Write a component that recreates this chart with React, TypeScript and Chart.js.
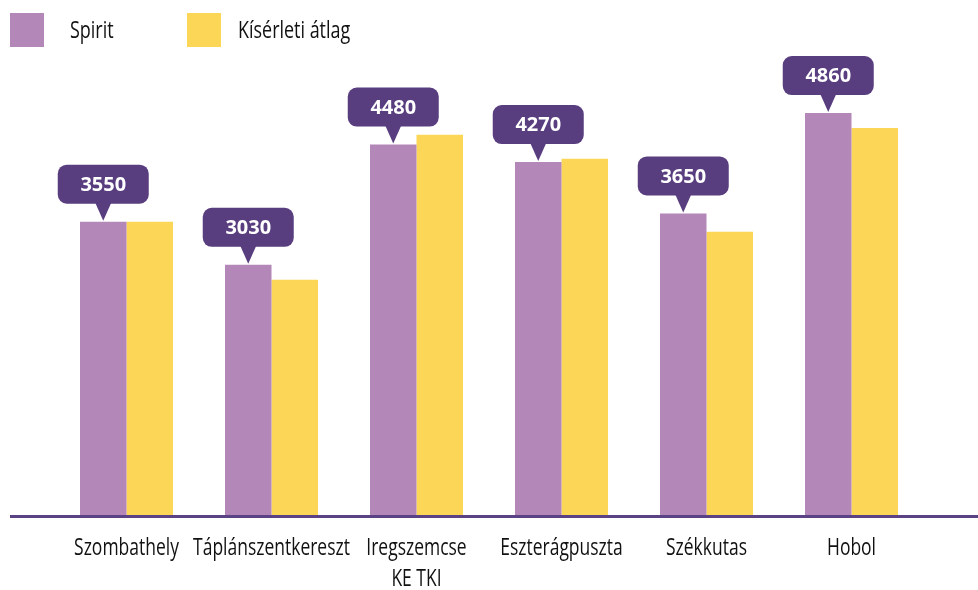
import React, { useEffect, useRef } from "react";
import { Chart, registerables } from "chart.js";

Chart.register(...registerables);

const categories: (string | string[])[] = [
  "Szombathely",
  "Táplánszentkereszt",
  ["Iregszemcse", "KE TKI"],
  "Eszterágpuszta",
  "Székkutas",
  "Hobol",
];
const spiritValues = [3550, 3030, 4480, 4270, 3650, 4860];
const averageValues = [3550, 2850, 4600, 4310, 3430, 4680];
const seriesNames = ["Spirit", "Kísérleti átlag"];

const SPIRIT = "#b388b8";
const YELLOW = "#fcd656";
const DARK = "#583d7f";
const LABEL_FONT = "500 23px 'Open Sans', sans-serif";
const SQUEEZE = 0.76;

function drawNarrow(ctx: CanvasRenderingContext2D, text: string, x: number, y: number, align: "left" | "center", squeeze: number) {
  ctx.save();
  ctx.translate(x, y);
  ctx.scale(squeeze, 1);
  ctx.textAlign = align;
  ctx.textBaseline = "alphabetic";
  ctx.fillText(text, 0, 0);
  ctx.restore();
}

const legendPlugin = {
  id: "customLegend",
  afterDraw(chart: any) {
    const ctx = chart.ctx;
    const items = [
      { box: 10, text: 70 },
      { box: 187, text: 238 },
    ];
    ctx.save();
    chart.data.datasets.forEach((ds: any, i: number) => {
      const it = items[i];
      ctx.fillStyle = ds.backgroundColor;
      ctx.fillRect(it.box, 13, 34, 34);
      ctx.fillStyle = "#111";
      ctx.font = LABEL_FONT;
      drawNarrow(ctx, ds.label, it.text, 38, "left", 0.78);
    });
    ctx.restore();
  },
};

const xLabelPlugin = {
  id: "xLabels",
  afterDraw(chart: any) {
    const ctx = chart.ctx;
    const scale = chart.scales.x;
    ctx.save();
    ctx.fillStyle = "#111";
    ctx.font = LABEL_FONT;
    chart.data.labels.forEach((lab: any, i: number) => {
      const x = scale.getPixelForTick(i);
      const lines = Array.isArray(lab) ? lab : [lab];
      lines.forEach((line: string, j: number) => {
        drawNarrow(ctx, line, x, 555 + j * 31, "center", SQUEEZE);
      });
    });
    ctx.restore();
  },
};

const axisLinePlugin = {
  id: "axisLine",
  afterDatasetsDraw(chart: any) {
    const ctx = chart.ctx;
    const y = chart.chartArea.bottom + 0.5;
    ctx.save();
    ctx.strokeStyle = "#5b4285";
    ctx.lineWidth = 3;
    ctx.beginPath();
    ctx.moveTo(10, y);
    ctx.lineTo(chart.width, y);
    ctx.stroke();
    ctx.restore();
  },
};

const calloutPlugin = {
  id: "callouts",
  afterDatasetsDraw(chart: any) {
    const ctx = chart.ctx;
    const meta = chart.getDatasetMeta(0);
    const data = chart.data.datasets[0].data;
    ctx.save();
    meta.data.forEach((bar: any, i: number) => {
      const cx = bar.x;
      const top = bar.y;
      const w = 91;
      const h = 39;
      const bottom = top - 18;
      const left = cx - w / 2;
      const r = 9;
      ctx.fillStyle = DARK;
      ctx.beginPath();
      ctx.roundRect(left, bottom - h, w, h, r);
      ctx.fill();
      ctx.beginPath();
      ctx.moveTo(cx - 8, bottom - 1);
      ctx.lineTo(cx + 8, bottom - 1);
      ctx.lineTo(cx, top - 1);
      ctx.closePath();
      ctx.fill();
      ctx.fillStyle = "#ffffff";
      ctx.font = "bold 20px 'Open Sans', sans-serif";
      ctx.textAlign = "center";
      ctx.textBaseline = "middle";
      ctx.fillText(String(data[i]), cx, bottom - h / 2 + 1);
    });
    ctx.restore();
  },
};

export default function App() {
  const ref = useRef<HTMLCanvasElement | null>(null);

  useEffect(() => {
    if (!ref.current) return;
    const chart = new Chart(ref.current, {
      type: "bar",
      data: {
        labels: categories,
        datasets: [
          {
            label: seriesNames[0],
            data: spiritValues,
            backgroundColor: SPIRIT,
            barPercentage: 1,
            categoryPercentage: 0.6414,
          },
          {
            label: seriesNames[1],
            data: averageValues,
            backgroundColor: YELLOW,
            barPercentage: 1,
            categoryPercentage: 0.6414,
          },
        ],
      },
      options: {
        responsive: false,
        animation: false,
        layout: { padding: { left: 54, right: 54, top: 18.6, bottom: 0 } },
        plugins: {
          legend: { display: false },
          tooltip: { enabled: false },
        },
        scales: {
          x: {
            offset: true,
            grid: { display: false, drawTicks: false },
            border: { display: false },
            ticks: { display: false },
            afterFit: (scale: any) => {
              scale.height = 74;
            },
          },
          y: {
            display: false,
            min: 0,
            max: 6000,
          },
        },
      },
      plugins: [axisLinePlugin, calloutPlugin, legendPlugin, xLabelPlugin],
    });
    return () => chart.destroy();
  }, []);

  return (
    <div style={{ position: "absolute", left: 0, top: 0, width: 978, height: 590, background: "#fff" }}>
      <canvas ref={ref} width={978} height={590} style={{ display: "block" }} />
    </div>
  );
}
